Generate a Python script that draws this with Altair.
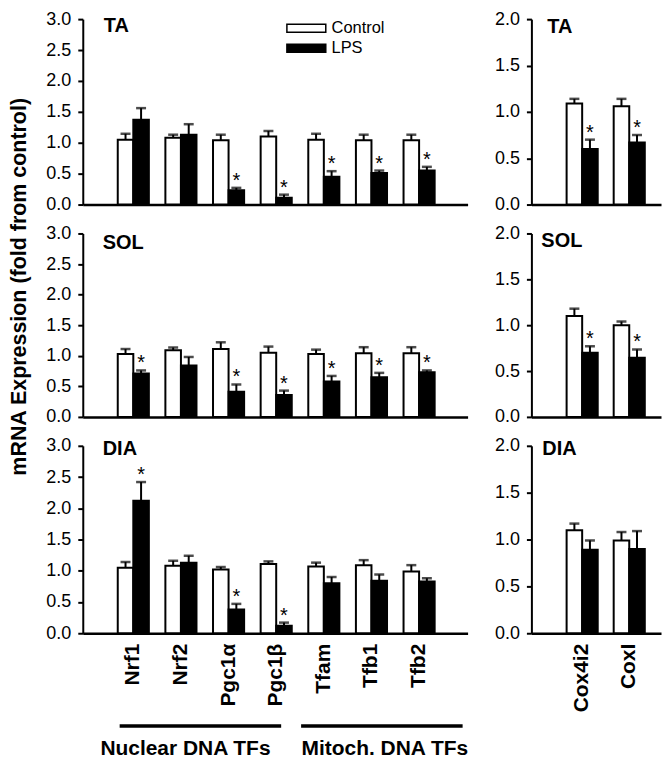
import altair as alt
import pandas as pd

FONT = "Liberation Sans"

GENES_TF = ["Nrf1", "Nrf2", "Pgc1α", "Pgc1β", "Tfam", "Tfb1", "Tfb2"]
GENES_COX = ["Cox4i2", "CoxI"]
CONDITIONS = ["Control", "LPS"]
MUSCLES = ["TA", "SOL", "DIA"]
GROUP_LABELS = ["Nuclear DNA TFs", "Mitoch. DNA TFs"]
Y_TITLE = "mRNA Expression (fold from control)"
TICKS_TF = [0.0, 0.5, 1.0, 1.5, 2.0, 2.5, 3.0]
TICKS_COX = [0.0, 0.5, 1.0, 1.5, 2.0]

# ---- transcription factor panels (mean, SEM, significance of LPS) ----
TA_TF_CTRL = [1.05, 1.08, 1.04, 1.10, 1.05, 1.04, 1.04]
TA_TF_CTRL_SEM = [0.095, 0.05, 0.09, 0.09, 0.095, 0.09, 0.09]
TA_TF_LPS = [1.37, 1.13, 0.23, 0.11, 0.45, 0.51, 0.55]
TA_TF_LPS_SEM = [0.19, 0.17, 0.04, 0.05, 0.09, 0.04, 0.06]
TA_TF_SIG = [False, False, True, True, True, True, True]

SOL_TF_CTRL = [1.03, 1.09, 1.11, 1.05, 1.03, 1.04, 1.04]
SOL_TF_CTRL_SEM = [0.08, 0.045, 0.11, 0.10, 0.07, 0.10, 0.10]
SOL_TF_LPS = [0.71, 0.84, 0.41, 0.36, 0.58, 0.65, 0.73]
SOL_TF_LPS_SEM = [0.05, 0.14, 0.12, 0.07, 0.09, 0.07, 0.03]
SOL_TF_SIG = [True, False, True, True, True, True, True]

DIA_TF_CTRL = [1.05, 1.08, 1.02, 1.11, 1.07, 1.09, 0.99]
DIA_TF_CTRL_SEM = [0.09, 0.08, 0.04, 0.04, 0.06, 0.08, 0.10]
DIA_TF_LPS = [2.12, 1.13, 0.38, 0.12, 0.80, 0.84, 0.83]
DIA_TF_LPS_SEM = [0.30, 0.11, 0.09, 0.05, 0.10, 0.10, 0.05]
DIA_TF_SIG = [True, False, True, True, False, False, False]

# ---- cytochrome oxidase panels ----
TA_COX_CTRL = [1.09, 1.06]
TA_COX_CTRL_SEM = [0.05, 0.08]
TA_COX_LPS = [0.60, 0.67]
TA_COX_LPS_SEM = [0.10, 0.08]
TA_COX_SIG = [True, True]

SOL_COX_CTRL = [1.10, 1.00]
SOL_COX_CTRL_SEM = [0.08, 0.04]
SOL_COX_LPS = [0.70, 0.645]
SOL_COX_LPS_SEM = [0.07, 0.09]
SOL_COX_SIG = [True, True]

DIA_COX_CTRL = [1.10, 0.99]
DIA_COX_CTRL_SEM = [0.07, 0.09]
DIA_COX_LPS = [0.89, 0.90]
DIA_COX_LPS_SEM = [0.10, 0.19]
DIA_COX_SIG = [False, False]


def make_df(genes, ctrl, ctrl_sem, lps, lps_sem, sig):
    rows = []
    for g, c, cs, l, ls, s in zip(genes, ctrl, ctrl_sem, lps, lps_sem, sig):
        rows.append({"gene": g, "cond": "Control", "value": c, "upper": c + cs, "star": ""})
        rows.append({"gene": g, "cond": "LPS", "value": l, "upper": l + ls, "star": "*" if s else ""})
    return pd.DataFrame(rows)


def panel(df, genes, ticks, width, height, muscle, title_xy, show_x,
          pad_outer, align, ytitle=None, legend=False, annotations=False):
    ymax = ticks[-1]
    xscale = alt.Scale(domain=genes, paddingInner=0.347, paddingOuter=pad_outer, align=align)
    xaxis = alt.Axis(title=None, ticks=False, labels=show_x, labelAngle=270,
                     labelFontSize=21, labelFontWeight="bold", labelPadding=10,
                     domainWidth=2.5, labelColor="black")
    X = alt.X("gene:N", scale=xscale, sort=genes, axis=xaxis)
    XO = alt.XOffset("cond:N", scale=alt.Scale(domain=CONDITIONS), sort=CONDITIONS)
    ax_kw = dict(values=ticks, format=".1f", labelFontSize=18, labelPadding=7,
                 tickSize=5, tickWidth=2, domainWidth=2)
    if ytitle:
        ax_kw.update(title=ytitle, titleFontSize=21.5, titleFontWeight="bold",
                     titleX=-63, titleY=53, titleAngle=270, titleBaseline="middle",
                     titleAlign="center", titleColor="black")
    else:
        ax_kw.update(title=None)
    yscale = alt.Scale(domain=[0, ymax], nice=False)
    Y = alt.Y("value:Q", scale=yscale, axis=alt.Axis(**ax_kw))
    Yu = alt.Y("upper:Q", scale=yscale, axis=alt.Axis(**ax_kw))

    if legend:
        leg = alt.Legend(orient="none", legendX=216, legendY=1, title=None,
                         symbolType="M-3.9,-0.8L3.9,-0.8L3.9,0.8L-3.9,0.8Z",
                         symbolSize=100, symbolStrokeColor="black", symbolStrokeWidth=1.5,
                         symbolOpacity=1, labelFontSize=16.5, labelFont=FONT,
                         labelColor="black", labelOffset=17, rowPadding=3, padding=0)
    else:
        leg = None
    fill = alt.Fill("cond:N", scale=alt.Scale(domain=CONDITIONS, range=["white", "black"]),
                    legend=leg)

    base = alt.Chart(df)
    bars = base.mark_bar(stroke="black", strokeWidth=2).encode(x=X, xOffset=XO, y=Y, fill=fill)
    err = base.mark_rule(color="black", strokeWidth=2).encode(
        x=X, xOffset=XO, y=Y, y2=alt.Y2("upper:Q"))
    caps = base.mark_tick(color="black", thickness=2.5, size=10).encode(x=X, xOffset=XO, y=Yu)
    stars = base.mark_text(fontSize=20, font=FONT, baseline="alphabetic", dy=-1,
                           color="black").encode(x=X, xOffset=XO, y=Yu, text="star:N")
    title = alt.Chart(pd.DataFrame({"name": [muscle]})).mark_text(
        font=FONT, fontSize=20, fontWeight="bold", align="left", baseline="alphabetic",
        color="black").encode(x=alt.value(title_xy[0]), y=alt.value(title_xy[1]), text="name:N")
    layers = [bars, err, caps, stars, title]

    if annotations:
        lab = pd.DataFrame({"label": GROUP_LABELS})
        specs = [((37, 199), 103), ((219, 381), 303)]
        for i, ((x0, x1), xc) in enumerate(specs):
            d = lab.iloc[[i]]
            layers.append(alt.Chart(d).mark_rule(color="black", strokeWidth=3.5).encode(
                x=alt.value(x0), x2=alt.value(x1), y=alt.value(height + 93)))
            layers.append(alt.Chart(d).mark_text(
                font=FONT, fontSize=21, fontWeight="bold", align="center", baseline="middle",
                color="black").encode(x=alt.value(xc), y=alt.value(height + 116), text="label:N"))

    return alt.layer(*layers).properties(width=width, height=height)


LW, RW = 386, 130
HEIGHTS = [186, 184, 188]
L_PAD, L_ALIGN = 0.713, 0.515
R_PAD, R_ALIGN = 0.55, 0.68

p_ta_tf = panel(make_df(GENES_TF, TA_TF_CTRL, TA_TF_CTRL_SEM, TA_TF_LPS, TA_TF_LPS_SEM, TA_TF_SIG),
                GENES_TF, TICKS_TF, LW, HEIGHTS[0], MUSCLES[0], (21, 13), False, L_PAD, L_ALIGN,
                legend=True)
p_ta_cox = panel(make_df(GENES_COX, TA_COX_CTRL, TA_COX_CTRL_SEM, TA_COX_LPS, TA_COX_LPS_SEM, TA_COX_SIG),
                 GENES_COX, TICKS_COX, RW, HEIGHTS[0], MUSCLES[0], (16, 14), False, R_PAD, R_ALIGN)
p_sol_tf = panel(make_df(GENES_TF, SOL_TF_CTRL, SOL_TF_CTRL_SEM, SOL_TF_LPS, SOL_TF_LPS_SEM, SOL_TF_SIG),
                 GENES_TF, TICKS_TF, LW, HEIGHTS[1], MUSCLES[1], (20, 16), False, L_PAD, L_ALIGN,
                 ytitle=Y_TITLE)
p_sol_cox = panel(make_df(GENES_COX, SOL_COX_CTRL, SOL_COX_CTRL_SEM, SOL_COX_LPS, SOL_COX_LPS_SEM, SOL_COX_SIG),
                  GENES_COX, TICKS_COX, RW, HEIGHTS[1], MUSCLES[1], (10, 14), False, R_PAD, R_ALIGN)
p_dia_tf = panel(make_df(GENES_TF, DIA_TF_CTRL, DIA_TF_CTRL_SEM, DIA_TF_LPS, DIA_TF_LPS_SEM, DIA_TF_SIG),
                 GENES_TF, TICKS_TF, LW, HEIGHTS[2], MUSCLES[2], (20, 9), True, L_PAD, L_ALIGN,
                 annotations=True)
p_dia_cox = panel(make_df(GENES_COX, DIA_COX_CTRL, DIA_COX_CTRL_SEM, DIA_COX_LPS, DIA_COX_LPS_SEM, DIA_COX_SIG),
                  GENES_COX, TICKS_COX, RW, HEIGHTS[2], MUSCLES[2], (11, 9), True, R_PAD, R_ALIGN)

chart = alt.concat(
    p_ta_tf, p_ta_cox, p_sol_tf, p_sol_cox, p_dia_tf, p_dia_cox,
    columns=2, spacing={"row": 29, "column": 64}, bounds="flush", align="each",
).resolve_legend(fill="independent").properties(
    padding={"left": 0, "top": 0, "right": 0, "bottom": 0}
).configure(font=FONT).configure_view(stroke="transparent").configure_axis(
    domainColor="black", tickColor="black", labelColor="black", grid=False,
    labelFont=FONT, titleFont=FONT,
)

chart.save("out.html", embed_options={"renderer": "svg", "actions": False})
